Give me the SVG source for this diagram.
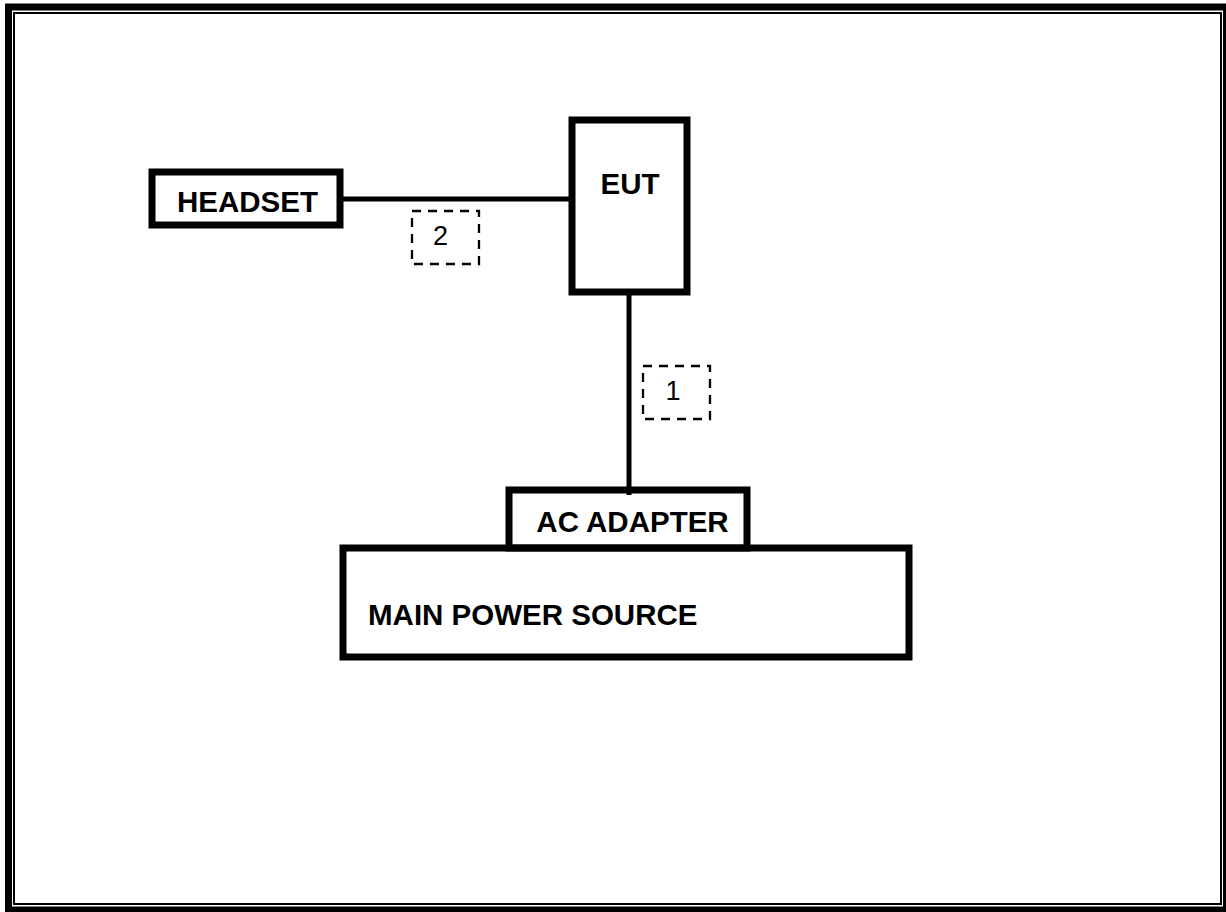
<svg xmlns="http://www.w3.org/2000/svg" width="1226" height="912" viewBox="0 0 1226 912">
<style>
.box{fill:#fff;stroke:#000;stroke-width:7}
.lbl{font-family:"Liberation Sans",Arial,sans-serif;font-weight:bold;font-size:29.5px;fill:#000}
.num{font-family:"Liberation Sans",Arial,sans-serif;font-size:27px;fill:#000;text-anchor:middle}
.dash{fill:none;stroke:#000;stroke-width:2.3;stroke-dasharray:9 7}
.wire{stroke:#000;stroke-width:5;fill:none}
</style>
<rect x="0" y="0" width="1226" height="912" fill="#fff"/>
<rect x="8.5" y="7" width="1218" height="903" fill="none" stroke="#000" stroke-width="7"/>
<rect x="14" y="13" width="1207" height="891" fill="none" stroke="#000" stroke-width="2"/>
<g id="connectors">
<line class="wire" x1="343" y1="199" x2="572" y2="199"/>
<line class="wire" x1="629" y1="292" x2="629" y2="495"/>
</g>
<g id="main-power-source">
<rect class="box" x="343" y="548" width="566" height="109"/>
<text class="lbl" x="368" y="625">MAIN POWER SOURCE</text>
</g>
<g id="ac-adapter">
<rect class="box" x="509" y="490" width="238" height="58" style="fill:none"/>
<text class="lbl" x="632.5" y="531.5" text-anchor="middle">AC ADAPTER</text>
</g>
<g id="eut">
<rect class="box" x="572" y="120" width="115" height="172"/>
<text class="lbl" x="630" y="193.5" text-anchor="middle">EUT</text>
</g>
<g id="headset">
<rect class="box" x="152" y="172" width="188" height="53"/>
<text class="lbl" x="247.5" y="211.5" text-anchor="middle">HEADSET</text>
</g>
<g id="label-1">
<rect class="dash" x="643" y="366" width="67" height="53"/>
<text class="num" x="673" y="400">1</text>
</g>
<g id="label-2">
<rect class="dash" x="412" y="211" width="67" height="53"/>
<text class="num" x="440.5" y="245">2</text>
</g>
</svg>
